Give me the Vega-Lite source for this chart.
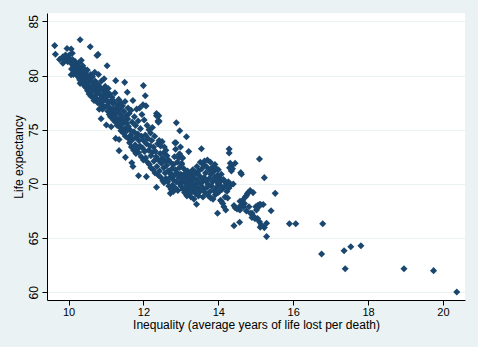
{
  "$schema": "https://vega.github.io/schema/vega-lite/v6.json",
  "width": 418,
  "height": 287,
  "autosize": {"type": "none"},
  "padding": {"left": 47, "top": 13, "right": 13, "bottom": 47},
  "background": "#EAF2F3",
  "view": {"fill": "white", "stroke": null},
  "config": {
    "font": "Liberation Sans",
    "axis": {"labelFont": "Liberation Sans", "titleFont": "Liberation Sans", "labelColor": "#000000", "titleColor": "#000000", "titleFontWeight": "normal", "labelFontSize": 12, "titleFontSize": 12, "domainColor": "#000000", "tickColor": "#000000", "tickSize": 5}
  },
  "data": {"values": [
    {"x":9.63,"y":82.76},{"x":9.65,"y":81.96},{"x":10.31,"y":83.31},{"x":10.58,"y":82.66},{"x":9.96,"y":82.5},{"x":10.07,"y":82.45},{"x":10.1,"y":82.05},{"x":10.79,"y":81.95},{"x":10.76,"y":81.85},{"x":11.03,"y":80.91},{"x":10.07,"y":80.08},{"x":10.31,"y":79.28},{"x":11.26,"y":79.53},{"x":11.5,"y":79.37},{"x":12.0,"y":79.07},{"x":11.57,"y":78.45},{"x":12.05,"y":78.14},{"x":10.87,"y":76.02},{"x":11.01,"y":75.44},{"x":11.14,"y":75.28},{"x":11.26,"y":74.2},{"x":11.35,"y":74.1},{"x":11.35,"y":73.07},{"x":11.52,"y":72.45},{"x":11.69,"y":71.96},{"x":11.72,"y":71.6},{"x":11.87,"y":70.76},{"x":12.08,"y":70.67},{"x":12.35,"y":69.69},{"x":12.55,"y":70.12},{"x":12.72,"y":69.13},{"x":12.88,"y":75.65},{"x":12.97,"y":74.91},{"x":13.15,"y":74.36},{"x":13.21,"y":72.98},{"x":13.55,"y":73.25},{"x":13.42,"y":68.12},{"x":13.98,"y":67.29},{"x":14.08,"y":68.4},{"x":14.29,"y":73.22},{"x":14.29,"y":72.85},{"x":14.45,"y":71.9},{"x":14.6,"y":71.04},{"x":15.1,"y":72.3},{"x":15.23,"y":70.58},{"x":15.52,"y":69.13},{"x":15.41,"y":67.53},{"x":14.42,"y":66.15},{"x":14.57,"y":66.46},{"x":15.29,"y":65.14},{"x":15.23,"y":65.97},{"x":15.29,"y":66.37},{"x":15.9,"y":66.33},{"x":16.07,"y":66.33},{"x":16.79,"y":66.33},{"x":16.76,"y":63.54},{"x":17.36,"y":63.84},{"x":17.54,"y":64.21},{"x":17.81,"y":64.3},{"x":17.39,"y":62.18},{"x":18.96,"y":62.18},{"x":19.75,"y":62.0},{"x":20.37,"y":60.03},
    {"x":9.76,"y":81.49},{"x":9.85,"y":81.13},{"x":9.89,"y":81.43},{"x":9.94,"y":81.68},{"x":9.98,"y":81.28},{"x":10.04,"y":81.49},{"x":9.85,"y":81.74},{"x":9.92,"y":81.9},
    {"x":10.02,"y":81.9},{"x":10.05,"y":81.2},{"x":10.08,"y":80.6},{"x":10.1,"y":81.5},{"x":10.12,"y":80.9},{"x":10.14,"y":81.1},{"x":10.15,"y":80.4},{"x":10.17,"y":80.8},{"x":10.18,"y":81.3},{"x":10.2,"y":80.2},{"x":10.2,"y":80.7},{"x":10.13,"y":80.1},
    {"x":10.22,"y":81.0},{"x":10.23,"y":80.5},{"x":10.25,"y":79.9},{"x":10.26,"y":80.8},{"x":10.28,"y":80.3},{"x":10.29,"y":81.2},{"x":10.3,"y":79.6},{"x":10.31,"y":80.6},{"x":10.33,"y":80.0},{"x":10.34,"y":81.4},{"x":10.35,"y":80.4},{"x":10.36,"y":79.8},{"x":10.38,"y":80.9},{"x":10.39,"y":79.4},{"x":10.4,"y":80.2},
    {"x":10.41,"y":79.1},{"x":10.42,"y":80.6},{"x":10.44,"y":79.7},{"x":10.45,"y":80.3},{"x":10.46,"y":78.9},{"x":10.47,"y":80.0},{"x":10.49,"y":79.3},{"x":10.5,"y":80.5},{"x":10.51,"y":78.6},{"x":10.52,"y":79.9},{"x":10.54,"y":79.0},{"x":10.55,"y":78.3},{"x":10.56,"y":79.6},{"x":10.58,"y":78.8},{"x":10.59,"y":80.1},{"x":10.6,"y":78.1},
    {"x":10.61,"y":79.4},{"x":10.62,"y":78.5},{"x":10.64,"y":79.9},{"x":10.65,"y":78.0},{"x":10.66,"y":79.1},{"x":10.68,"y":77.7},{"x":10.69,"y":78.7},{"x":10.7,"y":80.3},{"x":10.71,"y":79.5},{"x":10.72,"y":78.2},{"x":10.74,"y":77.9},{"x":10.75,"y":79.0},{"x":10.76,"y":78.4},{"x":10.78,"y":77.5},{"x":10.79,"y":79.2},{"x":10.8,"y":78.6},{"x":10.8,"y":80.1},
    {"x":10.82,"y":76.9},{"x":10.83,"y":77.8},{"x":10.85,"y":78.9},{"x":10.86,"y":78.2},{"x":10.87,"y":77.3},{"x":10.88,"y":79.5},{"x":10.9,"y":78.0},{"x":10.91,"y":76.9},{"x":10.92,"y":77.6},{"x":10.93,"y":78.6},{"x":10.95,"y":79.7},{"x":10.96,"y":77.1},{"x":10.97,"y":78.3},{"x":10.98,"y":79.0},{"x":11.0,"y":77.8},{"x":11.0,"y":78.5},
    {"x":11.02,"y":77.2},{"x":11.03,"y":78.1},{"x":11.05,"y":76.7},{"x":11.06,"y":78.8},{"x":11.07,"y":77.5},{"x":11.09,"y":76.4},{"x":11.1,"y":78.3},{"x":11.11,"y":77.0},{"x":11.12,"y":76.2},{"x":11.14,"y":77.7},{"x":11.15,"y":76.8},{"x":11.16,"y":78.0},{"x":11.18,"y":76.5},{"x":11.19,"y":77.4},{"x":11.2,"y":75.9},{"x":11.2,"y":76.9},
    {"x":11.22,"y":77.6},{"x":11.23,"y":76.3},{"x":11.24,"y":78.4},{"x":11.26,"y":75.7},{"x":11.27,"y":77.0},{"x":11.28,"y":76.6},{"x":11.3,"y":75.4},{"x":11.31,"y":77.3},{"x":11.32,"y":76.0},{"x":11.34,"y":77.8},{"x":11.35,"y":75.8},{"x":11.36,"y":76.9},{"x":11.38,"y":75.2},{"x":11.39,"y":76.4},{"x":11.4,"y":77.5},{"x":11.4,"y":74.9},
    {"x":11.42,"y":76.1},{"x":11.43,"y":75.5},{"x":11.44,"y":77.2},{"x":11.46,"y":74.7},{"x":11.47,"y":75.9},{"x":11.48,"y":76.7},{"x":11.5,"y":75.1},{"x":11.51,"y":77.6},{"x":11.52,"y":74.4},{"x":11.54,"y":76.3},{"x":11.55,"y":75.6},{"x":11.56,"y":74.9},{"x":11.58,"y":76.0},{"x":11.59,"y":77.0},{"x":11.6,"y":75.3},{"x":11.6,"y":74.2},
    {"x":11.62,"y":76.5},{"x":11.63,"y":73.8},{"x":11.64,"y":75.0},{"x":11.66,"y":74.5},{"x":11.67,"y":76.8},{"x":11.68,"y":73.4},{"x":11.7,"y":75.7},{"x":11.71,"y":74.1},{"x":11.72,"y":77.7},{"x":11.74,"y":73.1},{"x":11.75,"y":74.8},{"x":11.76,"y":76.2},{"x":11.78,"y":73.6},{"x":11.79,"y":75.4},{"x":11.8,"y":74.3},{"x":11.8,"y":72.8},
    {"x":11.82,"y":76.9},{"x":11.83,"y":73.2},{"x":11.85,"y":74.6},{"x":11.86,"y":75.8},{"x":11.87,"y":72.9},{"x":11.88,"y":74.0},{"x":11.9,"y":77.0},{"x":11.91,"y":73.5},{"x":11.92,"y":75.1},{"x":11.94,"y":72.5},{"x":11.95,"y":74.4},{"x":11.96,"y":76.4},{"x":11.98,"y":73.3},{"x":11.99,"y":77.3},{"x":12.0,"y":74.0},{"x":12.0,"y":72.2},
    {"x":12.02,"y":75.9},{"x":12.03,"y":73.0},{"x":12.05,"y":74.5},{"x":12.06,"y":72.4},{"x":12.07,"y":77.2},{"x":12.08,"y":73.7},{"x":12.1,"y":75.4},{"x":12.11,"y":72.0},{"x":12.12,"y":74.2},{"x":12.14,"y":73.1},{"x":12.15,"y":75.0},{"x":12.16,"y":71.8},{"x":12.18,"y":73.5},{"x":12.19,"y":74.7},{"x":12.2,"y":72.6},{"x":12.2,"y":71.5},
    {"x":12.22,"y":74.0},{"x":12.23,"y":72.9},{"x":12.24,"y":75.2},{"x":12.26,"y":71.3},{"x":12.27,"y":73.4},{"x":12.28,"y":72.1},{"x":12.3,"y":74.4},{"x":12.31,"y":71.0},{"x":12.32,"y":73.0},{"x":12.34,"y":72.5},{"x":12.35,"y":76.3},{"x":12.36,"y":71.6},{"x":12.38,"y":73.7},{"x":12.39,"y":75.8},{"x":12.4,"y":72.2},{"x":12.4,"y":70.8},
    {"x":12.35,"y":76.5},{"x":12.41,"y":76.3},{"x":12.42,"y":75.8},{"x":12.4,"y":75.7},
    {"x":12.42,"y":74.0},{"x":12.43,"y":71.2},{"x":12.45,"y":72.8},{"x":12.46,"y":73.5},{"x":12.47,"y":70.6},{"x":12.48,"y":71.9},{"x":12.5,"y":73.9},{"x":12.51,"y":72.4},{"x":12.52,"y":70.3},{"x":12.54,"y":71.5},{"x":12.55,"y":72.9},{"x":12.56,"y":73.4},{"x":12.58,"y":71.0},{"x":12.59,"y":72.1},{"x":12.6,"y":70.5},{"x":12.6,"y":73.1},
    {"x":12.62,"y":71.7},{"x":12.63,"y":72.6},{"x":12.65,"y":70.2},{"x":12.66,"y":71.2},{"x":12.67,"y":72.2},{"x":12.68,"y":69.8},{"x":12.7,"y":71.0},{"x":12.71,"y":70.6},{"x":12.72,"y":72.0},{"x":12.74,"y":69.5},{"x":12.75,"y":70.9},{"x":12.76,"y":71.4},{"x":12.78,"y":69.9},{"x":12.79,"y":70.4},{"x":12.8,"y":71.8},{"x":12.8,"y":69.3},
    {"x":12.84,"y":73.8},{"x":12.86,"y":73.2},{"x":12.97,"y":72.76},{"x":12.95,"y":72.4},{"x":13.02,"y":71.9},
    {"x":12.82,"y":70.8},{"x":12.83,"y":72.5},{"x":12.85,"y":71.3},{"x":12.86,"y":69.6},{"x":12.87,"y":73.8},{"x":12.88,"y":70.2},{"x":12.9,"y":72.0},{"x":12.91,"y":71.0},{"x":12.92,"y":69.4},{"x":12.94,"y":70.6},{"x":12.95,"y":72.7},{"x":12.96,"y":71.5},{"x":12.98,"y":70.0},{"x":12.99,"y":73.4},{"x":13.0,"y":70.9},{"x":13.0,"y":69.8},
    {"x":13.02,"y":71.8},{"x":13.03,"y":70.3},{"x":13.05,"y":72.4},{"x":13.06,"y":69.5},{"x":13.07,"y":70.7},{"x":13.08,"y":71.4},{"x":13.1,"y":69.2},{"x":13.11,"y":70.1},{"x":13.12,"y":71.0},{"x":13.14,"y":69.7},{"x":13.15,"y":70.5},{"x":13.16,"y":68.9},{"x":13.18,"y":71.2},{"x":13.19,"y":70.0},{"x":13.2,"y":69.4},{"x":13.2,"y":70.8},
    {"x":13.22,"y":69.0},{"x":13.23,"y":70.4},{"x":13.25,"y":71.0},{"x":13.26,"y":69.7},{"x":13.27,"y":68.8},{"x":13.28,"y":70.2},{"x":13.3,"y":69.3},{"x":13.31,"y":70.7},{"x":13.32,"y":71.3},{"x":13.34,"y":69.9},{"x":13.35,"y":68.6},{"x":13.36,"y":70.5},{"x":13.38,"y":69.5},{"x":13.39,"y":71.0},{"x":13.4,"y":70.0},{"x":13.4,"y":69.1},
    {"x":13.42,"y":70.4},{"x":13.43,"y":71.6},{"x":13.45,"y":69.6},{"x":13.46,"y":70.9},{"x":13.47,"y":68.9},{"x":13.48,"y":71.2},{"x":13.5,"y":70.1},{"x":13.51,"y":69.3},{"x":13.52,"y":72.0},{"x":13.54,"y":70.6},{"x":13.55,"y":69.8},{"x":13.56,"y":71.4},{"x":13.58,"y":70.2},{"x":13.59,"y":68.8},{"x":13.6,"y":71.8},{"x":13.6,"y":69.5},
    {"x":13.62,"y":70.6},{"x":13.63,"y":72.1},{"x":13.65,"y":69.2},{"x":13.66,"y":71.0},{"x":13.67,"y":70.3},{"x":13.68,"y":71.6},{"x":13.7,"y":69.7},{"x":13.71,"y":72.2},{"x":13.72,"y":70.0},{"x":13.74,"y":68.9},{"x":13.75,"y":71.3},{"x":13.76,"y":70.5},{"x":13.78,"y":69.3},{"x":13.79,"y":72.0},{"x":13.8,"y":68.7},{"x":13.8,"y":70.9},
    {"x":13.82,"y":69.8},{"x":13.83,"y":71.5},{"x":13.85,"y":70.2},{"x":13.86,"y":68.6},{"x":13.87,"y":71.1},{"x":13.88,"y":69.4},{"x":13.9,"y":70.6},{"x":13.91,"y":71.8},{"x":13.92,"y":69.0},{"x":13.94,"y":70.3},{"x":13.95,"y":71.4},{"x":13.96,"y":69.7},{"x":13.98,"y":70.8},{"x":13.99,"y":69.2},{"x":14.0,"y":71.3},{"x":14.0,"y":70.0},
    {"x":14.02,"y":70.6},{"x":14.03,"y":69.3},{"x":14.05,"y":70.2},{"x":14.06,"y":68.5},{"x":14.07,"y":69.8},{"x":14.08,"y":70.9},{"x":14.1,"y":69.5},{"x":14.12,"y":68.2},{"x":14.14,"y":70.4},{"x":14.15,"y":67.9},{"x":14.16,"y":69.7},{"x":14.18,"y":68.8},{"x":14.2,"y":70.1},{"x":14.2,"y":67.6},
    {"x":14.22,"y":70.0},{"x":14.23,"y":69.3},{"x":14.25,"y":68.7},{"x":14.27,"y":70.2},{"x":14.28,"y":69.6},{"x":14.3,"y":71.5},{"x":14.32,"y":71.9},{"x":14.34,"y":69.9},{"x":14.35,"y":71.2},{"x":14.37,"y":71.7},{"x":14.38,"y":71.4},{"x":14.4,"y":70.0},
    {"x":14.42,"y":68.0},{"x":14.45,"y":67.8},{"x":14.5,"y":67.7},{"x":14.55,"y":67.7},{"x":14.62,"y":70.9},{"x":14.58,"y":68.4},{"x":14.6,"y":68.0},
    {"x":14.65,"y":68.5},{"x":14.7,"y":68.2},{"x":14.72,"y":68.8},{"x":14.75,"y":68.9},{"x":14.78,"y":69.1},{"x":14.8,"y":69.2},{"x":14.85,"y":69.4},{"x":14.68,"y":67.9},{"x":14.75,"y":67.5},{"x":14.82,"y":67.9},{"x":14.9,"y":67.3},{"x":14.95,"y":67.0},{"x":15.0,"y":67.9},{"x":15.02,"y":67.6},{"x":15.05,"y":68.0},{"x":15.08,"y":67.9},{"x":15.1,"y":68.1},{"x":15.05,"y":66.8},{"x":15.1,"y":66.5},{"x":15.15,"y":66.2},{"x":14.98,"y":66.8},{"x":14.9,"y":66.9},{"x":15.12,"y":66.0},
    {"x":14.93,"y":69.2},{"x":14.86,"y":67.3},{"x":15.2,"y":68.1},{"x":15.13,"y":68.1},{"x":14.58,"y":67.6}
  ]},
  "mark": {"type": "point", "shape": "diamond", "filled": true, "size": 50, "color": "#1A476F", "opacity": 1},
  "encoding": {
    "x": {"field": "x", "type": "quantitative", "title": "Inequality (average years of life lost per death)",
      "scale": {"domain": [9.425, 20.59], "nice": false, "zero": false},
      "axis": {"values": [10, 12, 14, 16, 18, 20], "grid": false, "labelPadding": 1, "titlePadding": 2, "labelFlush": false, "labelFontSize": 11}},
    "y": {"field": "y", "type": "quantitative", "title": "Life expectancy",
      "scale": {"domain": [59.29, 85.77], "nice": false, "zero": false},
      "axis": {"values": [60, 65, 70, 75, 80, 85], "grid": true, "gridColor": "#EAF2F3", "gridWidth": 1, "gridOpacity": 1, "labelAngle": -90, "labelAlign": "center", "labelBaseline": "bottom", "labelPadding": 2, "titlePadding": 2, "labelFlush": false}}
  }
}
